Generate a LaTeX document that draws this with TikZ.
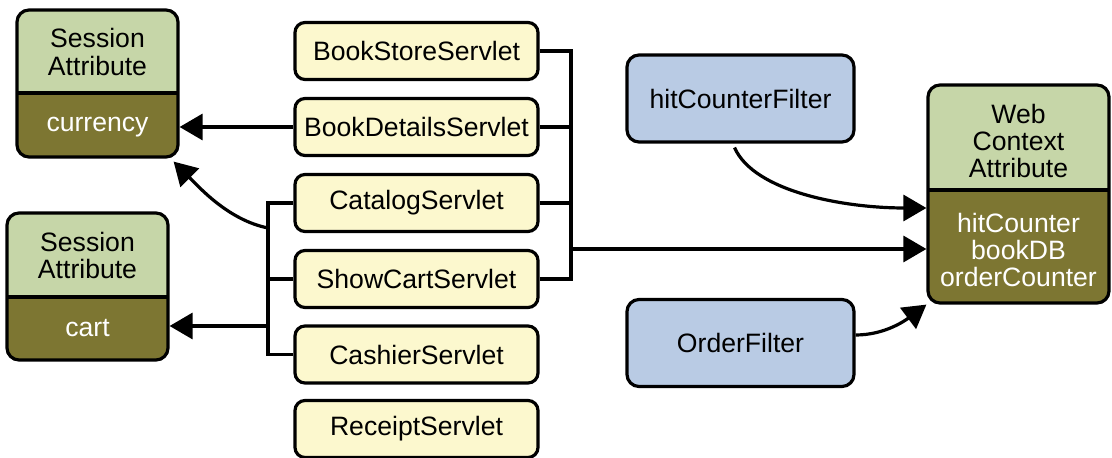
\documentclass[tikz,border=0pt]{standalone}
\usepackage{fontspec}
\setmainfont{Liberation Sans}
\usetikzlibrary{arrows.meta}
\tikzset{>={Triangle[length=11.5pt,width=13pt]}}

\definecolor{sage}{RGB}{198,214,168}
\definecolor{attrolive}{RGB}{125,118,50}
\definecolor{servletfill}{RGB}{252,248,206}
\definecolor{filterfill}{RGB}{185,203,228}

\tikzset{
  wire/.style={line width=1.6pt},
  servlet/.style={draw, line width=1.6pt, rounded corners=5pt, fill=servletfill,
    minimum width=121.5pt, minimum height=28.5pt, inner sep=0pt},
  filter/.style={draw, line width=1.6pt, rounded corners=6pt, fill=filterfill,
    minimum width=113.5pt, minimum height=43.5pt, inner sep=0pt},
  attrbox/.style={draw, line width=1.6pt, rounded corners=6pt, fill=attrolive,
    minimum width=80.5pt, minimum height=73.5pt, inner sep=0pt},
  attrhead/.style={path picture={
    \fill[sage, sharp corners] (path picture bounding box.north west)
      rectangle ([yshift=-#1]path picture bounding box.north east);
    \draw[line width=1.6pt, sharp corners] ([yshift=-#1]path picture bounding box.north west)
      -- ([yshift=-#1]path picture bounding box.north east);}},
  attrtext/.style={text=white, align=center}
}

\begin{document}
\begin{tikzpicture}[x=0.5pt, y=-0.5pt,
  every node/.style={font=\fontsize{13.3}{13.5}\selectfont, align=center}]
  \useasboundingbox (0,0) rectangle (1112,458);

  % Attributes
  \node[attrbox, attrhead=41.5pt] (sess1) at (97.5,83.5) {};
  \node (sess1head) at (97.5,52) {Session\\Attribute};
  \node[attrtext] (currency) at (97.5,127) {currency};

  \node[attrbox, attrhead=42pt] (sess2) at (87.5,286.5) {};
  \node (sess2head) at (87.5,255) {Session\\Attribute};
  \node[attrtext] (cart) at (87.5,328.5) {cart};

  \node[attrbox, minimum width=90.5pt, minimum height=109pt, attrhead=52.5pt] (web) at (1018.5,194) {};
  \node (webhead) at (1018.5,141) {Web\\Context\\Attribute};
  \node[attrtext] (webvals) at (1018.5,250) {hitCounter\\bookDB\\orderCounter};

  % Servlets
  \node[servlet] (bookstore) at (416.5,51) {BookStoreServlet};
  \node[servlet] (details) at (416.5,127) {BookDetailsServlet};
  \node[servlet] (catalog) at (416.5,203) {CatalogServlet};
  \node[servlet] (showcart) at (416.5,279) {ShowCartServlet};
  \node[servlet] (cashier) at (416.5,354.5) {CashierServlet};
  \node[servlet] (receipt) at (416.5,429) {ReceiptServlet};

  % Filters
  \node[filter] (hit) at (740.5,98.5) {hitCounterFilter};
  \node[filter] (order) at (740.5,343) {OrderFilter};

  % Buses
  \coordinate (rbus) at (571,249);
  \coordinate (lbus) at (268,279);
  \coordinate (lcur) at (268,228);
  \coordinate (lcart) at (268,326);

  \draw[wire] (bookstore.east) -| (rbus);
  \draw[wire] (showcart.east) -| (rbus);
  \draw[wire] (details.east) -- (details.east -| rbus);
  \draw[wire] (catalog.east) -- (catalog.east -| rbus);
  \draw[wire,->] (rbus) -- (web.west |- rbus);

  \draw[wire] (catalog.west) -| (lbus);
  \draw[wire] (cashier.west) -| (lbus);
  \draw[wire] (showcart.west) -- (lbus);

  % To the attributes
  \draw[wire,->] (details.west) -- (sess1.east |- details.west);
  \draw[wire,->] (lcart) -- (sess2.east |- lcart);
  \draw[wire,->] (lcur) .. controls +(-40,-8) and +(25,25) .. ([xshift=-3pt,yshift=-1.5pt]sess1.south east);
  \draw[wire,->] ([xshift=-3pt,yshift=-2pt]hit.south) .. controls +(20,45) and +(-80,0) .. ([yshift=-7pt]web.west);
  \draw[wire,->] ([yshift=4pt]order.east) .. controls +(30,0) and +(-20,15) .. (web.south west);
\end{tikzpicture}
\end{document}
